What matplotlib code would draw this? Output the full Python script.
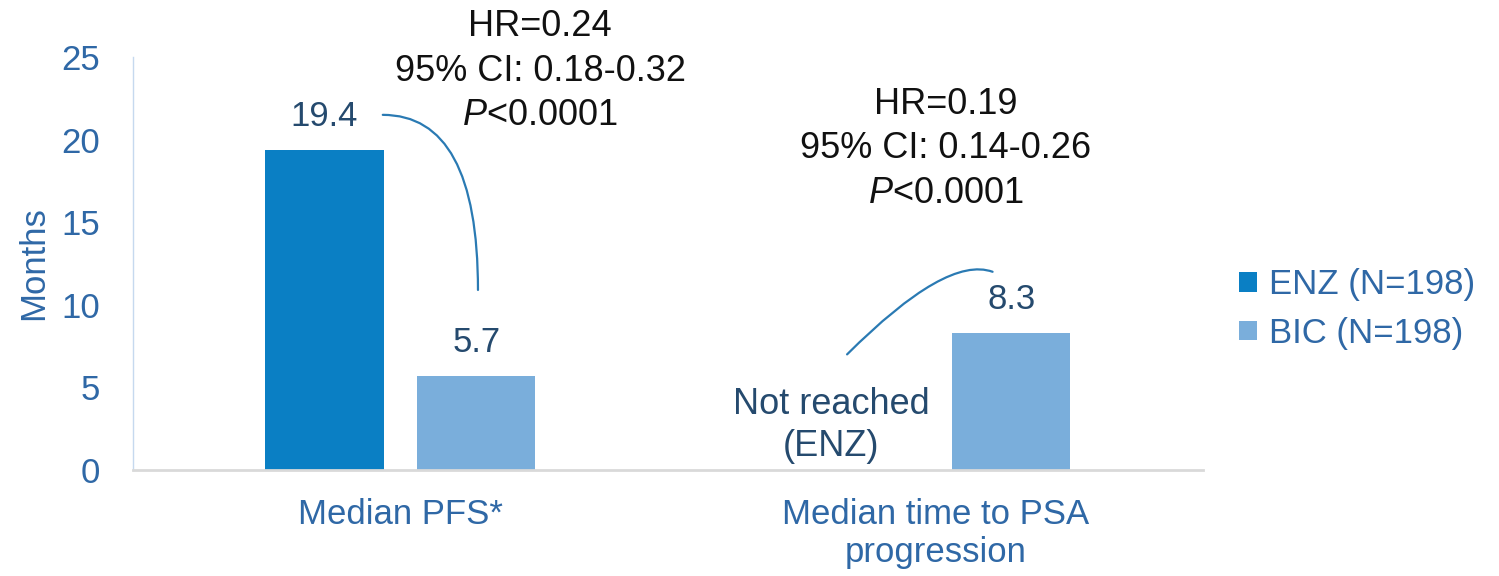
import numpy as np
import matplotlib.pyplot as plt

plt.rcParams['font.family'] = ['Liberation Sans', 'DejaVu Sans']
plt.rcParams['mathtext.fontset'] = 'custom'
plt.rcParams['mathtext.rm'] = 'Liberation Sans'
plt.rcParams['mathtext.it'] = 'Liberation Sans:italic'

categories = ['Median PFS*', 'Median time to PSA\nprogression']
enz_values = [19.4, np.nan]
bic_values = [5.7, 8.3]
enz_labels = ['19.4', '']
bic_labels = ['5.7', '8.3']
series_names = ['ENZ (N=198)', 'BIC (N=198)']
hr_text = [['HR=0.24', '95% CI: 0.18-0.32', r'$\it{P}$<0.0001'],
           ['HR=0.19', '95% CI: 0.14-0.26', r'$\it{P}$<0.0001']]

enz_color = '#0a7fc4'
bic_color = '#7aaedb'
tick_color = '#2f68a6'
label_color = '#254a6e'
curve_color = '#2a7ab3'

fig = plt.figure(figsize=(14.99, 5.76), dpi=100)
ax = fig.add_axes([0.0887, 0.184, 0.7137, 0.717])

x = np.arange(len(categories))
w = 0.221
off = 0.142
ax.bar(x - off, enz_values, w, color=enz_color, label=series_names[0])
ax.bar(x + off, bic_values, w, color=bic_color, label=series_names[1])

for i in range(len(categories)):
    if enz_labels[i]:
        ax.text(x[i] - off, enz_values[i] + 1.0, enz_labels[i], ha='center', va='bottom',
                fontsize=25, color=label_color)
    ax.text(x[i] + off, bic_values[i] + 1.0, bic_labels[i], ha='center', va='bottom',
            fontsize=25, color=label_color)

ax.text(0.805, 0.35, 'Not reached\n(ENZ)', ha='center', va='bottom', fontsize=26,
        color=label_color, linespacing=1.25)

# HR annotation blocks
hr_pos = [(0.261, 26.85), (1.019, 22.15)]
for (hx, hy), lines in zip(hr_pos, hr_text):
    for k, line in enumerate(lines):
        ax.text(hx, hy - k * 2.7, line, ha='center', va='center', fontsize=26,
                color='#111111', clip_on=False)

# connector curves
ax.annotate('', xy=(0.145, 10.9), xytext=(-0.033, 21.5),
            arrowprops=dict(arrowstyle='-', color=curve_color, lw=1.6,
                            connectionstyle='angle3,angleA=0,angleB=90',
                            shrinkA=0, shrinkB=0))
ax.annotate('', xy=(1.107, 12.0), xytext=(0.835, 7.0),
            arrowprops=dict(arrowstyle='-', color=curve_color, lw=1.6,
                            connectionstyle='angle3,angleA=45,angleB=-20',
                            shrinkA=0, shrinkB=0))

ax.set_xlim(-0.5, 1.5)
ax.set_ylim(0, 25)
ax.set_yticks([0, 5, 10, 15, 20, 25])
ax.set_xticks(x)
ax.set_xticklabels(categories, fontsize=25, color=tick_color, linespacing=1.2)
ax.tick_params(axis='y', labelsize=25, labelcolor=tick_color, length=0, pad=24)
ax.tick_params(axis='x', length=0, pad=20)
ax.set_ylabel('Months', fontsize=25, color=tick_color, labelpad=8)

for s in ['top', 'right']:
    ax.spines[s].set_visible(False)
ax.spines['left'].set_color('#c6d9ef')
ax.spines['left'].set_linewidth(1.0)
ax.spines['bottom'].set_color('#d9d9d9')
ax.spines['bottom'].set_linewidth(2.0)

leg = ax.legend(loc='center left', bbox_to_anchor=(1.005, 0.39), frameon=False,
                fontsize=25, handlelength=0.5, handleheight=0.5, handletextpad=0.35,
                labelspacing=0.45)
for t in leg.get_texts():
    t.set_color(tick_color)

fig.savefig('out.png', dpi=100)
